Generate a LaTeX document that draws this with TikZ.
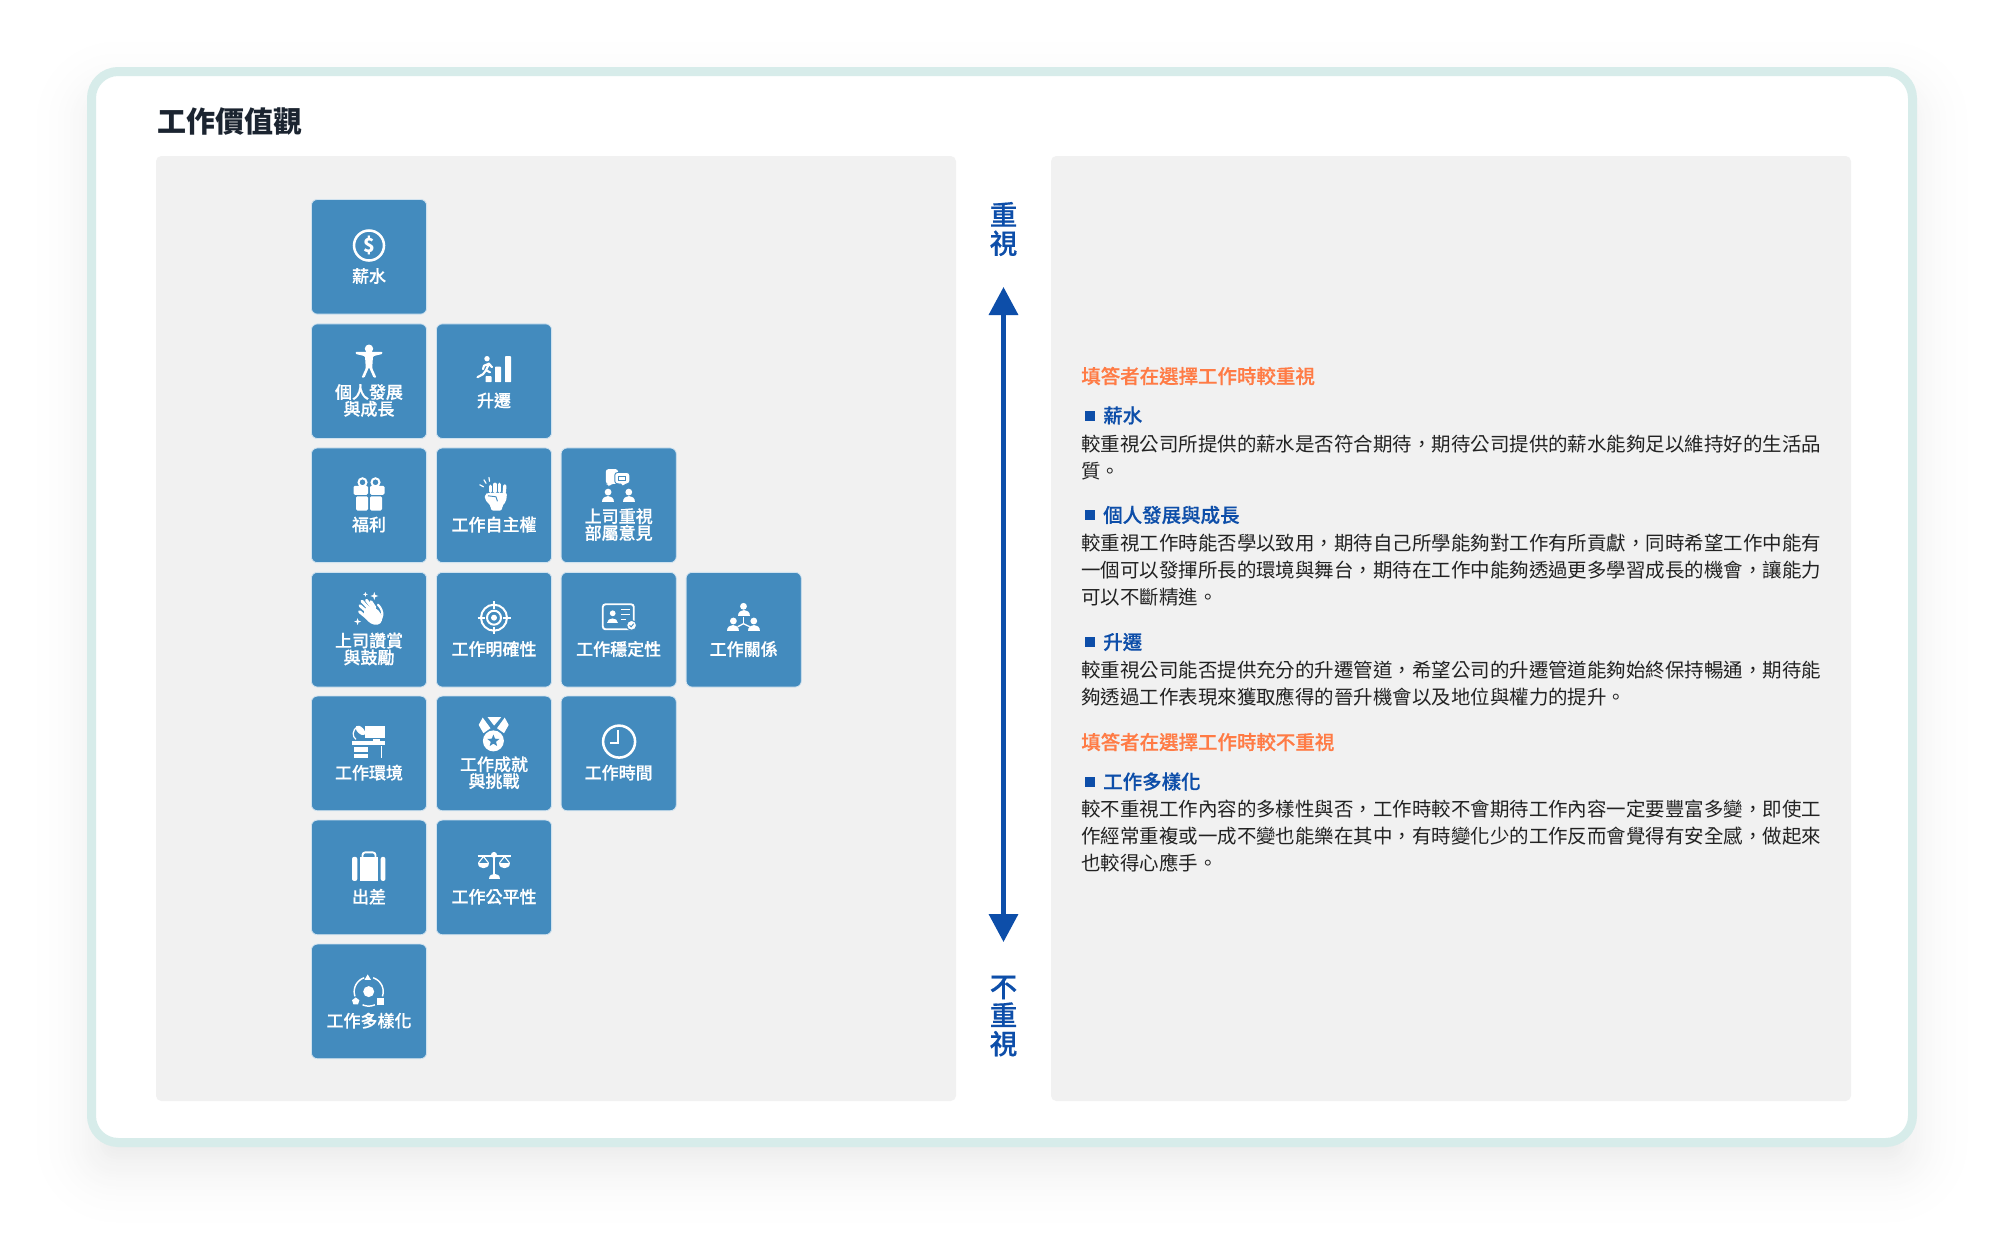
\documentclass[tikz,border=0pt]{standalone}
\usepackage{fontspec}
\setmainfont{Noto Sans CJK TC}
\newfontfamily\midfont[RawFeature={embolden=0.5}]{Noto Sans CJK TC Medium}
\usetikzlibrary{arrows.meta,calc,shapes.geometric}
\definecolor{tileblue}{HTML}{438BBE}
\definecolor{darkblue}{HTML}{0D4EA9}
\definecolor{headorange}{HTML}{FF7B45}
\definecolor{cardedge}{HTML}{D7ECEA}
\definecolor{panelgray}{HTML}{F1F1F1}
\definecolor{titleink}{HTML}{1B2430}
\definecolor{bodyink}{HTML}{222222}
% head and shoulders, #1 = centre of the base, #2 = base line
\newcommand{\iconbust}[2]{%
  \fill ({#1-6},#2) .. controls ({#1-6},{#2-8}) and ({#1+6},{#2-8}) .. ({#1+6},#2) -- cycle;
  \fill (#1,{#2-10}) circle[radius=3.4];}
\newcommand{\iconspark}[3]{%
  \fill (#1,{#2-#3}) -- ({#1+.25*#3},{#2-.25*#3}) -- ({#1+#3},#2) -- ({#1+.25*#3},{#2+.25*#3})
    -- (#1,{#2+#3}) -- ({#1-.25*#3},{#2+.25*#3}) -- ({#1-#3},#2) -- ({#1-.25*#3},{#2-.25*#3}) -- cycle;}
\begin{document}
\begin{tikzpicture}[x=0.75pt,y=-0.75pt,
tile/.style={rectangle,rounded corners=4.5pt,draw=white!75!tileblue,line width=0.6pt,fill=tileblue,minimum width=86.4pt,minimum height=86pt,inner sep=0pt},
tiletext/.style={text=white,inner sep=0pt,align=center,font=\fontsize{12.75}{12.6}\midfont\selectfont},
orangehead/.style={text=headorange,inner sep=0pt,anchor=west,font=\fontsize{14.6}{20.25}\midfont\selectfont},
bluehead/.style={text=darkblue,inner sep=0pt,anchor=west,font=\fontsize{14.6}{20.25}\midfont\selectfont},
bodytext/.style={text=bodyink,inner sep=0pt,anchor=north west,align=left,font=\fontsize{14.6}{20.25}\selectfont},
bullet/.style={rectangle,fill=darkblue,minimum size=7.5pt,inner sep=0pt},
sidetext/.style={text=darkblue,inner sep=0pt,align=center,font=\fontsize{20.6}{21.4}\midfont\selectfont},
thinline/.style={draw=white,line width=1.5pt}]

\useasboundingbox (0,0) rectangle (2000,1249);
\fill[white] (0,0) rectangle (2000,1249);

% soft shadow, from the outside in
\foreach \r in {65,62,...,-25}{
  \pgfmathsetmacro\shade{7*((65-(\r))/90)^2}
  \pgfmathsetmacro\corner{0.75*max(3,30+\r)}
  \fill[black!\shade!white,rounded corners=\corner pt] ({87-(\r)},{92-(\r)}) rectangle ({1917+\r},{1172+\r});
}
\draw[draw=cardedge,fill=white,line width=6.75pt,rounded corners=20pt] (91.5,71.5) rectangle (1912.5,1142.5);
\fill[panelgray,rounded corners=4pt] (156,156) rectangle (956,1101);
\fill[panelgray,rounded corners=4pt] (1051,156) rectangle (1851,1101);

\node[inner sep=0pt,anchor=west,text=titleink,font=\fontsize{21.75}{26}\selectfont\bfseries] (title) at (157.5,122) {工作價值觀};

% tiles
\node[tile] (salary) at (369,256.8) {};
\node[tile] (growth) at (369,381.2) {};
\node[tile] (promotion) at (494,381.2) {};
\node[tile] (welfare) at (369,505.3) {};
\node[tile] (autonomy) at (494,505.3) {};
\node[tile] (respect) at (618.7,505.3) {};
\node[tile] (praise) at (369,629.7) {};
\node[tile] (clarity) at (494,629.7) {};
\node[tile] (stability) at (618.7,629.7) {};
\node[tile] (relation) at (743.7,629.7) {};
\node[tile] (environment) at (369,753.4) {};
\node[tile] (challenge) at (494,753.4) {};
\node[tile] (worktime) at (618.7,753.4) {};
\node[tile] (travel) at (369,877.4) {};
\node[tile] (fairness) at (494,877.4) {};
\node[tile] (variety) at (369,1001.4) {};

% tile labels
\node[tiletext] (salarytext) at ($(salary)+(0,19.3)$) {薪水};
\node[tiletext] (growthtext) at ($(growth)+(0,19.3)$) {個人發展\\與成長};
\node[tiletext] (promotiontext) at ($(promotion)+(0,19.3)$) {升遷};
\node[tiletext] (welfaretext) at ($(welfare)+(0,19.3)$) {福利};
\node[tiletext] (autonomytext) at ($(autonomy)+(0,19.3)$) {工作自主權};
\node[tiletext] (respecttext) at ($(respect)+(0,19.3)$) {上司重視\\部屬意見};
\node[tiletext] (praisetext) at ($(praise)+(0,19.3)$) {上司讚賞\\與鼓勵};
\node[tiletext] (claritytext) at ($(clarity)+(0,19.3)$) {工作明確性};
\node[tiletext] (stabilitytext) at ($(stability)+(0,19.3)$) {工作穩定性};
\node[tiletext] (relationtext) at ($(relation)+(0,19.3)$) {工作關係};
\node[tiletext] (environmenttext) at ($(environment)+(0,19.3)$) {工作環境};
\node[tiletext] (challengetext) at ($(challenge)+(0,19.3)$) {工作成就\\與挑戰};
\node[tiletext] (worktimetext) at ($(worktime)+(0,19.3)$) {工作時間};
\node[tiletext] (traveltext) at ($(travel)+(0,19.3)$) {出差};
\node[tiletext] (fairnesstext) at ($(fairness)+(0,19.3)$) {工作公平性};
\node[tiletext] (varietytext) at ($(variety)+(0,19.3)$) {工作多樣化};

% icons
\begin{scope}[shift={(salary.center)},white]
\draw[line width=1.9pt] (0,-11.3) circle[radius=15];
\node[inner sep=0pt,text=white,font=\fontsize{14.5}{14.5}\selectfont\bfseries] (dollar) at (0,-11.3) {\$};
\end{scope}

\begin{scope}[shift={(growth.center)},white]
\fill (0,-32.5) circle[radius=4.2];
\fill[rounded corners=0.8pt] (-13.5,-29.3) -- (13.5,-29.3) -- (13.5,-27.3) -- (4,-25) -- (3.2,-13) -- (7.5,-3.5) -- (4.6,-3.5) -- (0,-14) -- (-4.6,-3.5) -- (-7.5,-3.5) -- (-3.2,-13) -- (-4,-25) -- (-13.5,-27.3) -- cycle;
\end{scope}

\begin{scope}[shift={(promotion.center)},white]
\fill[rounded corners=0.5pt] (11,-25) rectangle (17,1);
\fill[rounded corners=0.5pt] (1,-14.5) rectangle (7,1);
\fill[rounded corners=0.5pt] (-8.5,-5) rectangle (-2.5,1);
\fill (-7,-22.5) circle[radius=2.7];
\draw[line width=1.6pt,line cap=round,line join=round] (-2,-14) -- (-5,-17.5) -- (-8,-11) -- (-4,-9);
\draw[line width=1.6pt,line cap=round,line join=round] (-5,-17.5) -- (-10,-15.5) -- (-11,-12);
\draw[line width=1.6pt,line cap=round,line join=round] (-8,-11) -- (-11,-7) -- (-16.5,-4);
\end{scope}

\begin{scope}[shift={(welfare.center)},white]
\draw[thinline] (-6.5,-23) circle[radius=4];
\draw[thinline] (6.5,-23) circle[radius=4];
\fill[rounded corners=1pt] (-15.5,-19.5) rectangle (-1,-10.5);
\fill[rounded corners=1pt] (1,-19.5) rectangle (15.5,-10.5);
\fill[rounded corners=1pt] (-13,-9) rectangle (-1,5.2);
\fill[rounded corners=1pt] (1,-9) rectangle (13,5.2);
\end{scope}

\begin{scope}[shift={(autonomy.center)},white]
\draw[line width=2.5pt,line cap=round] (-3.5,-19) -- (-3.5,-14);
\draw[line width=2.5pt,line cap=round] (1,-21) -- (1,-14);
\draw[line width=2.5pt,line cap=round] (5.8,-21) -- (5.8,-14);
\draw[line width=2.5pt,line cap=round] (10.8,-19.5) -- (10.3,-13);
\fill[rounded corners=1.5pt] (-9.2,-11) -- (-6,-12.5) -- (13,-12.5) -- (12.2,-4) -- (8,1) -- (8,5.2) -- (-3,5.2) -- (-3,1) -- (-9.2,-6) -- cycle;
\draw[tileblue,line width=0.7pt] (-6,-9.5) -- (2,-8.5) -- (3.5,-4);
\draw[line width=0.9pt,line cap=round] (-14.2,-20.5) -- (-10.5,-18.5);
\draw[line width=0.9pt,line cap=round] (-10,-25.5) -- (-8,-22);
\draw[line width=0.9pt,line cap=round] (-5,-27.8) -- (-4.5,-24);
\end{scope}

\begin{scope}[shift={(respect.center)},white]
\fill[rounded corners=2pt] (-12.9,-36.2) -- (-0.6,-36.2) -- (-0.6,-21.5) -- (-7.5,-21.5) -- (-10,-18.5) -- (-10.5,-21.5) -- (-12.9,-21.5) -- cycle;
\filldraw[draw=tileblue,fill=white,line width=0.7pt,rounded corners=2pt] (-3.9,-32.8) -- (11.1,-32.8) -- (11.1,-21.5) -- (6.5,-21.5) -- (3.5,-17.7) -- (2.5,-21.5) -- (-3.9,-21.5) -- cycle;
\draw[tileblue,line width=1pt] (0,-29) rectangle (7,-25);
\iconbust{-10.6}{-3.2}
\iconbust{10.1}{-3.2}
\end{scope}

\begin{scope}[shift={(praise.center)},white]
\iconspark{-3.6}{-35.4}{2.5}
\iconspark{5.3}{-33.7}{4}
\iconspark{-11.4}{-8.1}{3.5}
% rear hand
\draw[line width=1.6pt,line cap=round] (9,-25) .. controls (15,-19) and (15,-10) .. (8,-7);
% fingers and palm
\draw[line width=2.2pt,line cap=round] (-1,-17) -- (-9,-24);
\draw[line width=2.2pt,line cap=round] (1,-20) -- (-7,-28.5);
\draw[line width=2.2pt,line cap=round] (3,-22) -- (-2.5,-29.5);
\draw[line width=2.2pt,line cap=round] (6,-22) -- (2,-28);
\fill[rotate around={-45:(4,-14)}] (4,-14) ellipse[x radius=10.5,y radius=7.5];
\draw[line width=2.2pt,line cap=round] (-1,-11) -- (-9.5,-18);
\end{scope}

\begin{scope}[shift={(clarity.center)},white]
\draw[line width=1.5pt] (0,-12) circle[radius=13];
\draw[line width=1.5pt] (0,-12) circle[radius=7];
\fill (0,-12) circle[radius=3];
\draw[line width=1.5pt] (0,-28.5) -- (0,-21);
\draw[line width=1.5pt] (0,-3) -- (0,4.5);
\draw[line width=1.5pt] (-16.5,-12) -- (-9,-12);
\draw[line width=1.5pt] (9,-12) -- (16.5,-12);
\end{scope}

\begin{scope}[shift={(stability.center)},white]
\draw[line width=1.4pt,rounded corners=2pt] (-15.9,-25.4) rectangle (15.1,-0.4);
\fill (-6,-16.4) circle[radius=2.9];
\fill (-11.5,-7) .. controls (-11.5,-13) and (-0.5,-13) .. (-0.5,-7) -- cycle;
\draw[line width=1.2pt] (2.1,-20.4) -- (11.1,-20.4);
\draw[line width=1.2pt] (2.1,-15.4) -- (11.1,-15.4);
\draw[line width=1.2pt] (2.1,-10.4) -- (7,-10.4);
\filldraw[draw=tileblue,fill=white,line width=0.8pt] (12.9,-4.4) circle[radius=5];
\draw[tileblue,line width=0.7pt] (10.8,-4.4) -- (12.4,-2.8) -- (15,-6);
\end{scope}

\begin{scope}[shift={(relation.center)},white]
\iconbust{-0.2}{-13.4}
\iconbust{-10.3}{1.3}
\iconbust{10.1}{1.3}
\draw[line width=1pt] (-0.2,-13) -- (-0.2,-6);
\draw[line width=1pt] (-6,-3) -- (-0.2,-6) -- (6,-3);
\end{scope}

\begin{scope}[shift={(environment.center)},white]
\fill (-16.8,-12.5) rectangle (16.4,-8.5);
\fill (-3.6,-27.8) rectangle (16.4,-15.2);
\fill (3.6,-14.5) rectangle (10.7,-12.5);
\fill (-15.3,-6.2) rectangle (-0.7,-1);
\fill (-15.3,0.5) rectangle (-0.7,4.5);
\draw[line width=1pt] (12.6,-7) -- (12.6,4.5);
\fill[rotate around={-45:(-8.5,-23)}] (-8.5,-23) ellipse[x radius=6,y radius=3.2];
\draw[line width=0.9pt] (-13,-14) .. controls (-17,-17) and (-17,-23) .. (-11.5,-27);
\end{scope}

\begin{scope}[shift={(challenge.center)},white]
\fill (-6.3,-36.2) -- (7.2,-36.2) -- (0.1,-27.8) -- cycle;
\fill (-11.3,-35.8) -- (-15.3,-28.5) -- (-10.6,-20.2) -- (-3.5,-25.2) -- cycle;
\fill (10.7,-35.8) -- (14.7,-28.5) -- (10,-20.2) -- (3,-25.2) -- cycle;
\fill (-0.6,-12.5) circle[radius=10.5];
\node[star,star points=5,star point ratio=2.3,fill=tileblue,minimum size=9.5pt,inner sep=0pt] (medalstar) at (-0.6,-12.5) {};
\end{scope}

\begin{scope}[shift={(worktime.center)},white]
\draw[line width=1.9pt] (0.4,-11.8) circle[radius=16];
\draw[line width=1.5pt] (-0.3,-23.5) -- (-0.3,-10.8) -- (-8.5,-10.8);
\end{scope}

\begin{scope}[shift={(travel.center)},white]
\fill[rounded corners=1.5pt] (-17,-20.5) rectangle (-11.7,3.5);
\fill (-8.9,-20.5) rectangle (8.7,3.5);
\fill[rounded corners=1.5pt] (11.7,-20.5) rectangle (16.4,3.5);
\draw[line width=1.4pt,rounded corners=2pt] (-6.5,-20) -- (-6.5,-25) -- (6.5,-25) -- (6.5,-20);
\end{scope}

\begin{scope}[shift={(fairness.center)},white]
\draw[line width=1.4pt] (0,-22) -- (0,0.5);
\draw[line width=1.1pt] (-16.5,-21.5) -- (16.5,-21.5);
\fill (0,-22.5) circle[radius=3];
\draw[line width=0.8pt] (-15.5,-14.5) -- (-10.5,-21) -- (-5.5,-14.5);
\draw[line width=0.8pt] (15.5,-14.5) -- (10.5,-21) -- (5.5,-14.5);
\fill (-16,-14.5) .. controls (-16,-7) and (-5,-7) .. (-5,-14.5) -- cycle;
\fill (16,-14.5) .. controls (16,-7) and (5,-7) .. (5,-14.5) -- cycle;
\fill (-5.5,2) .. controls (-5.5,-5) and (5.5,-5) .. (5.5,2) -- cycle;
\end{scope}

\begin{scope}[shift={(variety.center)},white]
\fill (-0.3,-9.8) circle[radius=5.5];
\draw[line width=1.1pt] plot[domain=-72:19,samples=20] ({-0.3+14.5*cos(\x)},{-9.8+14.5*sin(\x)});
\draw[line width=1.1pt] plot[domain=161:252,samples=20] ({-0.3+14.5*cos(\x)},{-9.8+14.5*sin(\x)});
\draw[line width=1.1pt] plot[domain=65:115,samples=10] ({-0.3+14.5*cos(\x)},{-9.8+14.5*sin(\x)});
\fill (-1.3,-27) -- (-4.5,-21.5) -- (2,-21.5) -- cycle;
\fill (-13.3,-4) -- (-9.6,-1.2) -- (-11,3) -- (-15.6,3) -- (-17,-1.2) -- cycle;
\fill (7.9,-3) rectangle (14.9,4);
\end{scope}

% axis between the panels
\node[sidetext] (hightext) at (1003.5,229) {重\\視};
\node[sidetext] (lowtext) at (1003.5,1016) {不\\重\\視};
\coordinate (arrowtop) at (1003.5,287);
\coordinate (arrowbot) at (1003.5,942);
\draw[{Triangle[length=21pt,width=21.5pt]}-{Triangle[length=21pt,width=21.5pt]},draw=darkblue,fill=darkblue,line width=3.4pt] (arrowtop) -- (arrowbot);

% right panel text
\node[orangehead] (headhigh) at (1081,376) {填答者在選擇工作時較重視};
\node[bullet] (b1) at (1090,415.5) {};
\node[bluehead] (h1) at (1103,415.5) {薪水};
\node[bodytext] (t1) at (1081,434.5) {較重視公司所提供的薪水是否符合期待^^^^ff0c期待公司提供的薪水能夠足以維持好的生活品\\質。};
\node[bullet] (b2) at (1090,515) {};
\node[bluehead] (h2) at (1103,515) {個人發展與成長};
\node[bodytext] (t2) at (1081,533.5) {較重視工作時能否學以致用^^^^ff0c期待自己所學能夠對工作有所貢獻^^^^ff0c同時希望工作中能有\\一個可以發揮所長的環境與舞台^^^^ff0c期待在工作中能夠透過更多學習成長的機會^^^^ff0c讓能力\\可以不斷精進。};
\node[bullet] (b3) at (1090,642) {};
\node[bluehead] (h3) at (1103,642) {升遷};
\node[bodytext] (t3) at (1081,660.5) {較重視公司能否提供充分的升遷管道^^^^ff0c希望公司的升遷管道能夠始終保持暢通^^^^ff0c期待能\\夠透過工作表現來獲取應得的晉升機會以及地位與權力的提升。};
\node[orangehead] (headlow) at (1081,742) {填答者在選擇工作時較不重視};
\node[bullet] (b4) at (1090,781.5) {};
\node[bluehead] (h4) at (1103,781.5) {工作多樣化};
\node[bodytext] (t4) at (1081,799.5) {較不重視工作內容的多樣性與否^^^^ff0c工作時較不會期待工作內容一定要豐富多變^^^^ff0c即使工\\作經常重複或一成不變也能樂在其中^^^^ff0c有時變化少的工作反而會覺得有安全感^^^^ff0c做起來\\也較得心應手。};
\end{tikzpicture}
\end{document}
